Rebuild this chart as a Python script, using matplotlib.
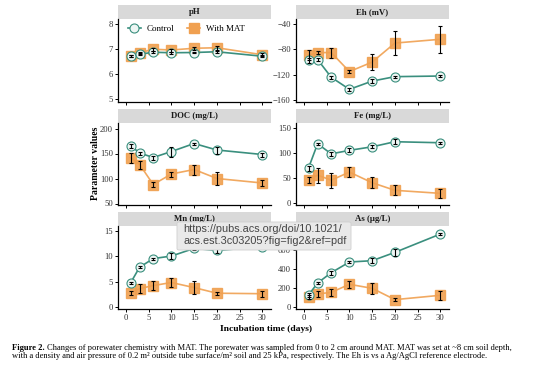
import matplotlib
matplotlib.use("Agg")
import matplotlib.pyplot as plt
from matplotlib.patches import Rectangle, FancyBboxPatch

plt.rcParams['font.family'] = ['Liberation Serif', 'DejaVu Serif']

days = [1, 3, 6, 10, 15, 20, 30]

titles = ["pH", "Eh (mV)", "DOC (mg/L)", "Fe (mg/L)", "Mn (mg/L)", "As (µg/L)"]

ph_ctrl = [6.72, 6.80, 6.88, 6.86, 6.87, 6.90, 6.72]
ph_ctrl_err = [0.04, 0.04, 0.04, 0.03, 0.03, 0.04, 0.04]
ph_mat = [6.73, 6.86, 7.00, 6.97, 7.04, 7.06, 6.78]
ph_mat_err = [0.05, 0.05, 0.05, 0.06, 0.06, 0.07, 0.06]

eh_ctrl = [-97, -96, -124, -143, -130, -123, -122]
eh_ctrl_err = [4, 3, 2, 2, 3, 1.5, 1.5]
eh_mat = [-89, -85, -85, -115, -100, -70, -64]
eh_mat_err = [8, 3, 8, 3, 12, 19, 21]

doc_ctrl = [166, 151, 142, 154, 170, 157, 148]
doc_ctrl_err = [4, 3, 4, 10, 2, 7, 4]
doc_mat = [142, 128, 88, 109, 118, 100, 91]
doc_mat_err = [10, 8, 5, 5, 10, 13, 6]

fe_ctrl = [70, 118, 98, 105, 112, 122, 120]
fe_ctrl_err = [5, 2, 4, 4, 3, 5, 1.5]
fe_mat = [47, 56, 46, 62, 41, 26, 20]
fe_mat_err = [6, 15, 15, 10, 11, 10, 9]

mn_ctrl = [4.7, 7.8, 9.5, 10.0, 11.5, 11.1, 11.8]
mn_ctrl_err = [0.2, 0.2, 0.2, 0.6, 0.4, 0.6, 0.3]
mn_mat = [2.7, 3.6, 4.2, 4.8, 3.8, 2.7, 2.6]
mn_mat_err = [0.4, 0.9, 0.9, 0.9, 1.3, 0.3, 0.6]

as_ctrl = [127, 254, 363, 476, 490, 578, 772]
as_ctrl_err = [20, 10, 20, 10, 25, 40, 15]
as_mat = [102, 138, 155, 240, 198, 78, 124]
as_mat_err = [20, 30, 40, 40, 60, 15, 50]

panels = [
    (ph_ctrl, ph_ctrl_err, ph_mat, ph_mat_err, (4.89, 8.21), [5, 6, 7, 8]),
    (eh_ctrl, eh_ctrl_err, eh_mat, eh_mat_err, (-163, -32), [-160, -120, -80, -40]),
    (doc_ctrl, doc_ctrl_err, doc_mat, doc_mat_err, (47, 211), [50, 100, 150, 200]),
    (fe_ctrl, fe_ctrl_err, fe_mat, fe_mat_err, (-3, 159), [0, 50, 100, 150]),
    (mn_ctrl, mn_ctrl_err, mn_mat, mn_mat_err, (-0.4, 15.9), [0, 5, 10, 15]),
    (as_ctrl, as_ctrl_err, as_mat, as_mat_err, (-21, 857), [0, 200, 400, 600, 800]),
]

teal = "#3A8F7E"
orange = "#F0A050"
W, H = 554, 368

fig = plt.figure(figsize=(W / 100, H / 100), dpi=100)

col_left = [118, 296]
col_w = 153
row_box = [(19, 102), (123, 205), (226, 309)]
strip_h = 14

for i, (c, ce, m, me, ylim, yt) in enumerate(panels):
    r, k = divmod(i, 2)
    top, bot = row_box[r]
    ax = fig.add_axes([col_left[k] / W, 1 - bot / H, col_w / W, (bot - top) / H])
    ax.plot(days, m, color=orange, lw=1.2, marker="s", ms=6.5,
            mfc=orange, mec=orange, alpha=0.9, zorder=2)
    ax.plot(days, c, color=teal, lw=1.2, marker="o", ms=6.5,
            mfc="#eef6f4", mec=teal, mew=0.8, zorder=3)
    ax.errorbar(days, m, yerr=me, fmt="none", ecolor="black", elinewidth=0.8,
                capsize=1.6, capthick=0.8, zorder=4)
    ax.errorbar(days, c, yerr=ce, fmt="none", ecolor="black", elinewidth=0.8,
                capsize=1.6, capthick=0.8, zorder=4)
    ax.set_xlim(-1.75, 31.9)
    ax.set_ylim(*ylim)
    ax.set_yticks(yt)
    ax.set_xticks([0, 5, 10, 15, 20, 25, 30])
    ax.spines[["top", "right"]].set_visible(False)
    for s in ("left", "bottom"):
        ax.spines[s].set_linewidth(0.9)
    ax.tick_params(length=2.5, width=0.7, labelsize=6.2, pad=1.2, colors="black",
                   labelcolor="#333333")
    if r < 2:
        ax.tick_params(axis="x", labelbottom=False)
    sh = strip_h / (bot - top)
    ax.add_patch(Rectangle((0, 1.0), 1, sh, transform=ax.transAxes,
                           facecolor="#d9d9d9", edgecolor="none", clip_on=False))
    ax.text(0.5, 1 + sh / 2, titles[i], transform=ax.transAxes, ha="center",
            va="center", fontsize=6.3, fontweight="bold", color="#1a1a1a")
    if i == 0:
        ax.plot([], [], color=teal, lw=1.2, marker="o", ms=6.5, mfc="#eef6f4",
                mec=teal, mew=0.8, label="Control")
        ax.plot([], [], color=orange, lw=1.2, marker="s", ms=6.5, mfc=orange,
                mec=orange, label="With MAT")
        h, l = ax.get_legend_handles_labels()
        ax.legend(h[-2:], l[-2:], loc="upper left", ncol=2, frameon=False,
                  fontsize=6.5, bbox_to_anchor=(0.03, 1.0), handlelength=1.4,
                  columnspacing=1.4, handletextpad=0.7, borderaxespad=0.2)

fig.text(95 / W, 1 - 163 / H, "Parameter values", rotation=90, ha="center",
         va="center", fontsize=7, fontweight="bold")
fig.text(266 / W, 1 - 329 / H, "Incubation time (days)", ha="center",
         va="center", fontsize=6.8, fontweight="bold")

# caption
cap_fs = 6.15
t1 = fig.text(12 / W, 1 - 348 / H, "Figure 2.", fontsize=cap_fs, fontweight="bold",
              va="center", ha="left")
fig.canvas.draw()
bb = t1.get_window_extent()
fig.text((bb.x1 + 2) / W, 1 - 348 / H,
         "Changes of porewater chemistry with MAT. The porewater was sampled from 0 to 2 cm "
         "around MAT. MAT was set at ~8 cm soil depth,",
         fontsize=cap_fs, va="center", ha="left")
fig.text(12 / W, 1 - 356 / H,
         "with a density and air pressure of 0.2 m² outside tube surface/m² soil and 25 kPa, "
         "respectively. The Eh is vs a Ag/AgCl reference electrode.",
         fontsize=cap_fs, va="center", ha="left")

# url tooltip overlay
box = FancyBboxPatch((177 / W, 1 - 250 / H), 174 / W, 28 / H,
                     boxstyle="round,pad=0,rounding_size=0.004",
                     transform=fig.transFigure, facecolor="#e9e9e9",
                     edgecolor="#cfcfcf", linewidth=0.6, zorder=10)
fig.patches.append(box)
for y, s in [(229.5, "https://pubs.acs.org/doi/10.1021/"),
             (241.5, "acs.est.3c03205?fig=fig2&ref=pdf")]:
    fig.text(183 / W, 1 - y / H, s, fontsize=7.8, family="Liberation Sans",
             color="#444444", va="center", ha="left", zorder=11)

fig.savefig("out.png", dpi=100)
